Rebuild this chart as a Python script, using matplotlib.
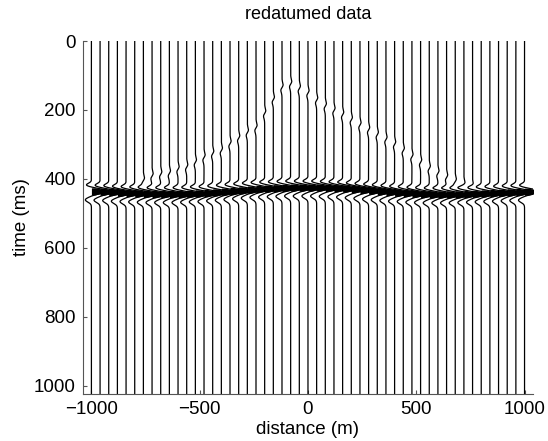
import numpy as np
import matplotlib.pyplot as plt

offsets = np.arange(-1000, 1001, 40)

event_time = [436, 437, 438, 440, 441, 442, 443, 444, 444, 444,
              444, 443, 442, 441, 439, 437, 435, 433, 431, 429,
              428, 427, 426, 425, 425, 425, 425, 426, 427, 428,
              430, 432, 434, 436, 438, 440, 441, 443, 444, 445,
              445, 445, 445, 444, 443, 442, 441, 440, 439, 438, 437]

# weak redatuming artefact above the reflection (nan = none)
upper_time = [np.nan] * 6 + [405, 392, 387, 384, 372, 366, 352, 338, 327, 318,
                             298, 282, 266, 252, 210, 170, 135, 125, 138, 151,
                             172, 189, 202, 214, 229, 244, 258, 272, 286, 300,
                             318, 336, 352, 370, 384, 396, 408, 418, 426] + [np.nan] * 6

event_amp = 2.0
artefact_amp = 0.13

time = np.arange(0, 1025, 1.0)
spacing = 40.0


def pulse(t, t0):
    main = np.exp(-((t - t0) / 9.0) ** 2)
    lead = 0.3 * np.exp(-((t - t0 + 18) / 7.0) ** 2)
    tail = 0.35 * np.exp(-((t - t0 - 25) / 9.0) ** 2)
    return main - lead - tail


def dgauss(t, t0, w=12.0):
    u = (t - t0) / w
    return -u * np.exp(-u ** 2) * 2.33


fig = plt.figure(figsize=(5.48, 4.41), dpi=100)
ax = fig.add_axes([0.151, 0.107, 0.822, 0.800])

for i, x in enumerate(offsets):
    trace = event_amp * pulse(time, event_time[i])
    if not np.isnan(upper_time[i]):
        trace += artefact_amp * dgauss(time, upper_time[i])
    xs = x + trace * spacing
    ax.plot(xs, time, color='k', linewidth=0.9)
    ax.fill_betweenx(time, x, xs, where=trace > 0.3, color='k', linewidth=0)

ax.set_xlim(-1040, 1040)
ax.set_ylim(1024, 0)
ax.set_xticks([-1000, -500, 0, 500, 1000])
ax.set_xticklabels(['\u22121000', '\u2212500', '0', '500', '1000'])
ax.set_yticks([0, 200, 400, 600, 800, 1000])
for s in ['top', 'right']:
    ax.spines[s].set_visible(False)
for s in ['left', 'bottom']:
    ax.spines[s].set_color('#555555')
ax.tick_params(direction='in', length=3, color='#555555', labelsize=13.5)
ax.tick_params(axis='x', pad=5)
ax.tick_params(axis='y', pad=5)
for lab in ax.get_xticklabels() + ax.get_yticklabels():
    lab.set_fontfamily('Liberation Sans')

ax.set_xlabel('distance (m)', fontsize=13.5, family='Liberation Sans', labelpad=2)
ax.set_ylabel('time (ms)', fontsize=13.5, family='Liberation Sans', labelpad=3)
ax.set_title('redatumed data', fontsize=13, family='Liberation Sans', pad=16)

fig.savefig('out.png', dpi=100)
